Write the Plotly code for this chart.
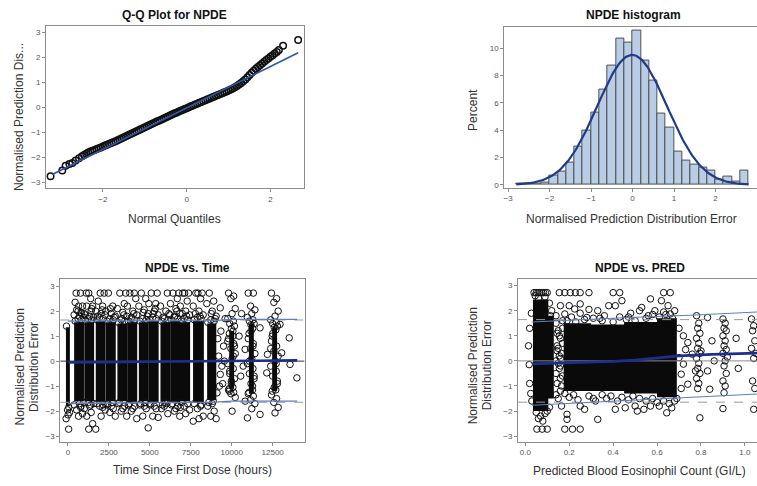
import numpy as np
import plotly.graph_objects as go

W, H = 757, 486

# ---------------- Q-Q plot data ----------------
QQ_THEO = [-3.25, -2.97, -2.89, -2.80, -2.73, -2.65, -2.57, -2.50, -2.45, -2.40, -2.35, -2.30, -2.25, -2.20,
           -2.15, -2.10, -2.05, -2.00, -1.95, -1.90, -1.85, -1.80, -1.75, -1.70, -1.65, -1.60, -1.55, -1.50,
           -1.45, -1.40, -1.35, -1.30, -1.25, -1.20, -1.15, -1.10, -1.05, -1.00, -0.95, -0.90, -0.85, -0.80,
           -0.75, -0.70, -0.65, -0.60, -0.55, -0.50, -0.45, -0.40, -0.35, -0.30, -0.25, -0.20, -0.15, -0.10,
           -0.05, 0.00, 0.05, 0.10, 0.15, 0.20, 0.25, 0.30, 0.35, 0.40, 0.45, 0.50, 0.55, 0.60, 0.65, 0.70,
           0.75, 0.80, 0.85, 0.90, 0.95, 1.00, 1.05, 1.10, 1.15, 1.20, 1.25, 1.30, 1.35, 1.40, 1.45, 1.50,
           1.55, 1.60, 1.65, 1.70, 1.75, 1.80, 1.85, 1.90, 1.95, 2.00, 2.05, 2.10, 2.15, 2.20, 2.30, 2.66]
QQ_NPDE = [-2.75, -2.52, -2.33, -2.26, -2.22, -2.12, -2.03, -1.95, -1.90, -1.85, -1.80, -1.76, -1.73, -1.70,
           -1.66, -1.63, -1.60, -1.56, -1.52, -1.49, -1.45, -1.42, -1.38, -1.35, -1.31, -1.27, -1.23, -1.19,
           -1.15, -1.11, -1.07, -1.03, -0.99, -0.95, -0.91, -0.87, -0.83, -0.79, -0.75, -0.71, -0.67, -0.63,
           -0.59, -0.55, -0.52, -0.48, -0.44, -0.40, -0.36, -0.32, -0.28, -0.24, -0.21, -0.17, -0.13, -0.10,
           -0.06, -0.03, 0.01, 0.05, 0.08, 0.12, 0.15, 0.19, 0.22, 0.26, 0.29, 0.33, 0.36, 0.40, 0.43, 0.47,
           0.50, 0.54, 0.57, 0.61, 0.64, 0.68, 0.72, 0.76, 0.81, 0.86, 0.92, 0.98, 1.05, 1.12, 1.21, 1.30,
           1.39, 1.47, 1.55, 1.62, 1.69, 1.76, 1.83, 1.90, 1.96, 2.03, 2.09, 2.16, 2.22, 2.30, 2.47, 2.70]
QQ_LINE_X = [-3.21, 2.66]
QQ_LINE_MEAN = -0.02
QQ_LINE_SD = 0.83

# ---------------- histogram data ----------------
HIST_LEFT = [-2.8, -2.6, -2.4, -2.2, -2.0, -1.8, -1.6, -1.4, -1.2, -1.0, -0.8, -0.6, -0.4, -0.2,
             0.0, 0.2, 0.4, 0.6, 0.8, 1.0, 1.2, 1.4, 1.6, 1.8, 2.0, 2.2, 2.4, 2.6]
HIST_PCT = [0.12, 0.10, 0.10, 0.20, 0.65, 1.0, 1.6, 2.8, 4.0, 5.3, 7.0, 8.7, 10.7, 10.4,
            11.3, 9.1, 7.6, 5.2, 4.2, 2.4, 1.8, 1.5, 1.26, 1.02, 0.41, 0.58, 0.25, 1.02]
BIN_W = 0.2
NORM_MEAN = -0.01
NORM_SD = 0.84
NORM_X_RANGE = [-2.8, 2.8]

# ---------------- NPDE vs time data ----------------
VISIT_T = [0, 680, 1300, 2000, 2620, 3320, 3930, 4630, 5240, 5950, 6560, 7160, 7970, 8780, 10000, 11200, 12620]
VISIT_SPREAD = [110, 300, 300, 300, 300, 300, 300, 300, 300, 300, 300, 300, 320, 300, 240, 240, 240]
CORE_HALF = [120, 300, 300, 300, 300, 300, 300, 300, 300, 300, 300, 300, 330, 280, 150, 150, 150]
CORE_LO = [-1.8, -1.6, -1.6, -1.65, -1.6, -1.6, -1.65, -1.6, -1.65, -1.6, -1.65, -1.6, -1.65, -1.55, -1.1, -1.3, -1.2]
CORE_HI = [1.35, 1.55, 1.55, 1.6, 1.55, 1.5, 1.55, 1.55, 1.6, 1.55, 1.6, 1.55, 1.6, 1.5, 1.2, 1.5, 1.35]
VISIT_VALS = [
    [1.4, -1.85, -1.95, -2.05, -2.15, -2.3, -2.72],
    [1.6, 1.65, 1.7, 1.75, 1.8, 1.85, 1.95, 2.05, 2.2, 2.2, 2.72, 2.72, 2.35, 1.9, 2.0,
     -1.65, -1.7, -1.75, -1.8, -1.95, -2.1, -2.2, -1.85],
    [1.6, 1.65, 1.7, 1.75, 1.8, 1.9, 2.0, 2.2, 2.2, 2.72, 2.5, 2.72, 1.85, 2.1,
     -1.65, -1.7, -1.8, -1.9, -2.05, -2.2, -2.5, -2.72, -1.75],
    [1.65, 1.7, 1.75, 1.85, 1.9, 2.0, 2.2, 2.4, 2.72, 2.72, 2.05, 1.8,
     -1.7, -1.75, -1.8, -1.95, -2.2, -2.72, -1.85],
    [1.6, 1.65, 1.7, 1.8, 1.9, 2.0, 2.2, 2.72, 1.75, 2.1,
     -1.65, -1.7, -1.75, -1.9, -2.05, -2.2, -1.8],
    [1.55, 1.6, 1.65, 1.8, 1.95, 2.1, 2.3, 2.72, 2.72, 1.7, 1.85,
     -1.65, -1.7, -1.8, -2.0, -2.2, -1.9],
    [1.6, 1.65, 1.75, 1.85, 2.0, 2.2, 2.72, 2.72, 2.5, 1.7, 1.9,
     -1.7, -1.75, -1.8, -2.0, -2.3, -1.9],
    [1.6, 1.65, 1.7, 1.9, 2.05, 2.2, 2.5, 2.72, 1.8, 1.95,
     -1.65, -1.7, -1.75, -1.9, -2.2, -2.67, -1.8],
    [1.65, 1.7, 1.75, 1.85, 2.0, 2.3, 2.3, 2.72, 2.72, 1.9, 2.1,
     -1.7, -1.75, -1.9, -2.2, -2.25, -1.8],
    [1.6, 1.65, 1.7, 1.85, 2.0, 2.2, 2.72, 1.75, 1.9,
     -1.65, -1.7, -1.75, -1.9, -2.1, -1.8],
    [1.65, 1.7, 1.75, 1.9, 2.1, 2.3, 2.5, 2.72, 2.72, 1.8, 2.0,
     -1.7, -1.75, -1.8, -2.0, -2.2, -1.9],
    [1.6, 1.65, 1.7, 1.85, 2.0, 2.2, 2.4, 2.72, 2.72, 2.72, 1.8, 1.9,
     -1.65, -1.7, -1.8, -1.95, -2.1, -1.85],
    [1.65, 1.7, 1.75, 1.85, 2.0, 2.2, 2.5, 2.72, 2.72, 2.72, 1.8, 1.9,
     -1.7, -1.75, -1.9, -2.2, -2.3, -2.4, -1.8],
    [1.55, 1.6, 1.65, 1.8, 2.0, 2.3, 2.4, 2.72, 1.7, 1.9,
     -1.6, -1.65, -1.8, -2.0, -2.2, -2.3, -1.7],
    [2.72, 2.6, 2.5, 2.1, 1.9, 1.7, 1.6, 1.5, 1.4, 1.3, 1.2, 1.1, 0.9, 0.7, 0.5, 0.3, 0.1, -0.1, -0.3,
     -0.5, -0.7, -0.9, -1.05, -1.1, -1.15, -1.25, -1.3, -1.45, -2.0, 0.8, 0.2, -0.4, 0.6, -0.8, 1.0, -1.2],
    [2.72, 2.72, 2.2, 2.05, 1.9, 1.75, 1.65, 1.6, 1.5, 1.45, 1.3, 1.1, 0.9, 0.7, 0.5, 0.3, 0.1, -0.1,
     -0.3, -0.5, -0.7, -0.9, -1.15, -1.25, -1.3, -1.4, -1.55, -1.7, -1.9, -2.27, 0.6, 0.0, -0.6, 1.2, -1.0],
    [2.72, 2.5, 2.35, 2.0, 1.8, 1.65, 1.55, 1.5, 1.4, 1.35, 1.25, 1.0, 0.8, 0.6, 0.4, 0.2, 0.0, -0.2,
     -0.4, -0.6, -0.8, -1.05, -1.15, -1.2, -1.35, -1.5, -1.65, -1.85, -2.07, 0.5, -0.1, 1.1, -0.9],
]
EXTRA_T = [9300, 9340, 9300, 9100, 9500, 9450, 9200, 9600, 10820, 10600, 10700, 10820, 12140, 12180, 11730,
           11730, 12950, 13050, 13510, 13980, 13560, 9400, 9150, 9250, 9550, 10450, 10550]
EXTRA_V = [2.13, 1.2, -0.53, -1.27, 0.6, -0.9, 0.2, 1.7, 0.47, 1.9, -0.2, -1.6, -0.47, 0.27, 1.33,
           -2.13, 1.47, 0.33, 0.93, -0.67, -0.13, -0.2, 0.9, -1.0, 0.0, 1.0, -0.6]
TIME_REF_T = [0, 3000, 6000, 9000, 10000, 14000]
TIME_UPPER = [1.6, 1.6, 1.6, 1.62, 1.67, 1.67]
TIME_LOWER = [-1.7, -1.68, -1.66, -1.64, -1.6, -1.6]
TIME_MID = [-0.05, -0.03, -0.01, 0.0, 0.03, 0.03]

# ---------------- NPDE vs PRED data ----------------
PCORE_XLO = [0.035, 0.105, 0.175, 0.30, 0.45, 0.60]
PCORE_XHI = [0.105, 0.13, 0.30, 0.45, 0.60, 0.69]
PCORE_YLO = [-2.0, -1.5, -1.2, -1.2, -1.3, -1.45]
PCORE_YHI = [2.45, 1.8, 1.5, 1.45, 1.55, 1.7]
PRED_X = [0.040, 0.050, 0.058, 0.066, 0.075, 0.083, 0.092, 0.100,
          0.045, 0.09, 0.06, 0.11, 0.12, 0.115,
          0.02, 0.015, 0.018, 0.02, 0.025, 0.028, 0.03,
          0.05, 0.07, 0.09, 0.06, 0.08, 0.10, 0.11,
          0.053, 0.077, 0.10, 0.18, 0.215, 0.25,
          0.155, 0.18, 0.205, 0.228, 0.25, 0.29, 0.40, 0.43, 0.63, 0.66,
          0.14, 0.15, 0.16, 0.145, 0.165, 0.14, 0.155, 0.17, 0.145, 0.16, 0.15, 0.165, 0.14, 0.17, 0.16, 0.15,
          0.17, 0.14, 0.155, 0.165, 0.145, 0.16, 0.15, 0.17, 0.14, 0.16, 0.155, 0.145,
          0.19, 0.21, 0.23, 0.25, 0.27, 0.29, 0.31, 0.33, 0.35, 0.36, 0.38, 0.40, 0.41, 0.43, 0.44, 0.46, 0.48,
          0.50, 0.52, 0.53, 0.55, 0.57, 0.58, 0.59, 0.61, 0.62, 0.63, 0.65, 0.66, 0.67, 0.68, 0.20, 0.16, 0.18,
          0.225, 0.25, 0.28, 0.34, 0.47, 0.56, 0.64,
          0.18, 0.20, 0.22, 0.24, 0.25, 0.27, 0.19, 0.19, 0.29, 0.31, 0.32, 0.33, 0.35, 0.37, 0.39, 0.41, 0.42,
          0.44, 0.455, 0.47, 0.49, 0.50, 0.51, 0.52, 0.54, 0.55, 0.57, 0.58, 0.60, 0.61, 0.63, 0.644, 0.655,
          0.667, 0.68, 0.69,
          0.70, 0.71, 0.72, 0.72, 0.74, 0.74, 0.76, 0.73, 0.70, 0.71,
          0.78, 0.79, 0.785, 0.795, 0.78, 0.79, 0.785, 0.795, 0.78, 0.79, 0.785, 0.795, 0.78, 0.79, 0.785,
          0.795, 0.80, 0.775,
          0.83, 0.83, 0.84, 0.85, 0.86,
          0.90, 0.91, 0.905, 0.915, 0.90, 0.91, 0.905, 0.915, 0.90, 0.91, 0.905, 0.915, 0.90, 0.91, 0.905,
          0.90, 0.92,
          0.96, 0.97,
          1.03, 1.04, 1.035, 1.045, 1.03, 1.04, 1.035, 1.045, 1.04, 1.05]
PRED_Y = [2.72, 2.72, 2.72, 2.72, 2.72, 2.72, 2.72, 2.72,
          2.6, 2.55, 2.5, 2.3, 2.0, 1.8,
          1.3, 0.6, -0.15, -0.9, -1.3, 1.9, -1.6,
          -2.05, -2.2, -2.1, -2.3, -2.4, -2.0, -1.85,
          -2.72, -2.72, -2.72, -2.72, -2.72, -2.72,
          2.72, 2.72, 2.72, 2.72, 2.72, 2.72, 2.72, 2.72, 2.72, 2.72,
          1.5, 1.2, 0.9, 0.6, 0.3, 0.0, -0.3, -0.6, -0.9, -1.2, -1.5, -1.8, 1.8, 1.6, 0.1, -0.1,
          0.7, -0.5, 1.0, -1.0, 0.4, -0.7, 0.5, 1.3, -1.35, -0.2, 0.2, 1.1,
          1.6, 1.75, 1.55, 1.9, 1.65, 2.05, 1.7, 2.0, 1.6, 1.8, 2.2, 1.55, 2.2, 1.75, 2.4, 1.65, 1.9,
          1.6, 2.0, 2.13, 1.7, 2.47, 1.85, 2.0, 1.75, 2.4, 1.95, 2.2, 1.87, 1.7, 2.0, 2.2, 2.2, 1.87,
          2.07, 2.27, 1.73, 1.7, 1.75, 1.8, 1.85,
          -1.3, -1.45, -1.35, -1.55, -1.8, -1.93, -2.13, -2.33, -1.4, -1.5, -1.6, -2.33, -1.35, -1.5, -1.4,
          -1.93, -1.6, -1.45, -1.87, -1.55, -1.4, -1.8, -2.0, -1.5, -1.93, -1.6, -1.8, -1.5, -1.65, -1.8, -1.6,
          -2.07, -1.7, -1.87, -1.6, -1.5,
          0.13, -0.53, 1.0, -0.13, 0.73, -0.93, 0.27, 0.45, 1.3, -1.1,
          1.8, 1.5, 1.3, 1.1, 0.9, 0.7, 0.5, 0.3, 0.1, -0.1, -0.3, -0.5, -0.7, -0.9, -1.1, -2.27, 0.4, -0.4,
          1.73, -0.4, -1.13, 0.8, 0.0,
          1.67, 1.5, 1.3, 1.2, 1.0, 0.8, 0.6, 0.45, 0.3, 0.0, -0.2, -0.5, -0.8, -1.0, -1.27, -1.9, 0.15,
          0.9, -0.3,
          1.67, 1.4, 1.2, 0.8, 0.5, 0.1, -0.8, -1.1, -1.93, 0.3]
PRED_REF_X = [0.03, 0.25, 0.5, 0.75, 1.06]
PRED_UPPER = [1.55, 1.65, 1.74, 1.82, 1.95]
PRED_LOWER = [-1.77, -1.67, -1.56, -1.45, -1.32]
PRED_MID_X = [0.03, 0.2, 0.4, 0.5, 0.7, 0.85, 1.06]
PRED_MID = [-0.12, -0.08, -0.02, 0.03, 0.2, 0.26, 0.31]
REF_NORM_LIMIT = 1.645

# ---------------- styles ----------------
FONT = "Liberation Sans, Arial, sans-serif"
JIT = [-0.8, 0.5, -0.2, 0.9, 0.1, -1.0, 0.4, -0.5, 0.7, -0.1, 0.3, -0.6]
MK = dict(symbol="circle-open", size=6.5, color="#111111", line=dict(width=1, color="#111111"))
MK_QQ = dict(symbol="circle-open", size=6.5, color="#111111", line=dict(width=1.5, color="#111111"))
BLUE_LT = "#5b7fc2"
BLUE_DK = "#1c2f8c"
GRAY_DASH = "#9a9a9a"

RANGES = {
    "1": ([-3.36, 2.79], [-3.23, 3.24]),
    "2": ([-3.09, 3.0], [-0.19, 11.57]),
    "3": ([-470, 14450], [-3.22, 3.29]),
    "4": ([-0.033, 1.055], [-3.22, 3.27]),
}


def dx(px):
    return px / W


def dy(py):
    return 1 - py / H


fig = go.Figure()

# ---- Panel 1: Q-Q ----
fig.add_trace(go.Scatter(x=QQ_THEO, y=QQ_NPDE, mode="markers", marker=MK_QQ, xaxis="x", yaxis="y"))
fig.add_trace(go.Scatter(x=QQ_LINE_X, y=[QQ_LINE_MEAN + QQ_LINE_SD * v for v in QQ_LINE_X], mode="lines",
                         line=dict(color="#2f54a8", width=1.6), xaxis="x", yaxis="y"))

# ---- Panel 2: histogram ----
centers = [l + BIN_W / 2 for l in HIST_LEFT]
fig.add_trace(go.Bar(x=centers, y=HIST_PCT, width=BIN_W, marker=dict(color="#b9cde6",
                     line=dict(color="#505050", width=1)), xaxis="x2", yaxis="y2"))
xs = np.linspace(NORM_X_RANGE[0], NORM_X_RANGE[1], 200)
dens = 100 * BIN_W * np.exp(-0.5 * ((xs - NORM_MEAN) / NORM_SD) ** 2) / (NORM_SD * np.sqrt(2 * np.pi))
fig.add_trace(go.Scatter(x=xs, y=dens, mode="lines", line=dict(color="#1f3c8a", width=2.2),
                         xaxis="x2", yaxis="y2"))

# ---- Panel 3: NPDE vs time ----
cx, cy = [], []
for t, half, lo, hi in zip(VISIT_T, CORE_HALF, CORE_LO, CORE_HI):
    cx += [t - half, t + half, t + half, t - half, t - half, None]
    cy += [lo, lo, hi, hi, lo, None]
fig.add_trace(go.Scatter(x=cx, y=cy, mode="lines", fill="toself", fillcolor="#0a0a0a",
                         line=dict(width=0, color="#0a0a0a"), xaxis="x3", yaxis="y3"))
tp, vp = [], []
for t, sp, vals in zip(VISIT_T, VISIT_SPREAD, VISIT_VALS):
    for k, v in enumerate(vals):
        tp.append(t + JIT[k % len(JIT)] * sp)
        vp.append(v)
tp += EXTRA_T
vp += EXTRA_V
fig.add_trace(go.Scatter(x=tp, y=vp, mode="markers", marker=MK, xaxis="x3", yaxis="y3"))
xr3 = RANGES["3"][0]
fig.add_trace(go.Scatter(x=xr3, y=[0, 0], mode="lines", line=dict(color="#333333", width=1), xaxis="x3", yaxis="y3"))
for s in (1, -1):
    fig.add_trace(go.Scatter(x=xr3, y=[s * REF_NORM_LIMIT] * 2, mode="lines",
                             line=dict(color=GRAY_DASH, width=1, dash="dash"), xaxis="x3", yaxis="y3"))
fig.add_trace(go.Scatter(x=TIME_REF_T, y=TIME_UPPER, mode="lines", line=dict(color=BLUE_LT, width=1.1), xaxis="x3", yaxis="y3"))
fig.add_trace(go.Scatter(x=TIME_REF_T, y=TIME_LOWER, mode="lines", line=dict(color=BLUE_LT, width=1.1), xaxis="x3", yaxis="y3"))
fig.add_trace(go.Scatter(x=TIME_REF_T, y=TIME_MID, mode="lines", line=dict(color=BLUE_DK, width=2.6), xaxis="x3", yaxis="y3"))

# ---- Panel 4: NPDE vs PRED ----
px_, py_ = [], []
for xl, xh, yl, yh in zip(PCORE_XLO, PCORE_XHI, PCORE_YLO, PCORE_YHI):
    px_ += [xl, xh, xh, xl, xl, None]
    py_ += [yl, yl, yh, yh, yl, None]
fig.add_trace(go.Scatter(x=px_, y=py_, mode="lines", fill="toself", fillcolor="#0a0a0a",
                         line=dict(width=0, color="#0a0a0a"), xaxis="x4", yaxis="y4"))
fig.add_trace(go.Scatter(x=PRED_X, y=PRED_Y, mode="markers", marker=MK, xaxis="x4", yaxis="y4"))
xr4 = RANGES["4"][0]
fig.add_trace(go.Scatter(x=xr4, y=[0, 0], mode="lines", line=dict(color="#8a8a8a", width=1), xaxis="x4", yaxis="y4"))
for s in (1, -1):
    fig.add_trace(go.Scatter(x=xr4, y=[s * REF_NORM_LIMIT] * 2, mode="lines",
                             line=dict(color=GRAY_DASH, width=1, dash="dash"), xaxis="x4", yaxis="y4"))
fig.add_trace(go.Scatter(x=PRED_REF_X, y=PRED_UPPER, mode="lines", line=dict(color=BLUE_LT, width=1.1), xaxis="x4", yaxis="y4"))
fig.add_trace(go.Scatter(x=PRED_REF_X, y=PRED_LOWER, mode="lines", line=dict(color=BLUE_LT, width=1.1), xaxis="x4", yaxis="y4"))
fig.add_trace(go.Scatter(x=PRED_MID_X, y=PRED_MID, mode="lines", line=dict(color=BLUE_DK, width=2.6), xaxis="x4", yaxis="y4"))

# ---------------- axes ----------------
TICKFONT = dict(family=FONT, size=8, color="#555555")


def axis(domain, rng, anchor, mirror=True, **kw):
    d = dict(domain=domain, range=rng, anchor=anchor, showgrid=False, zeroline=False,
             showline=True, linecolor="#8c8c8c", linewidth=1, mirror=mirror,
             ticks="outside", ticklen=3, tickcolor="#8c8c8c", tickfont=TICKFONT)
    d.update(kw)
    return d


layout_axes = dict(
    xaxis=axis([dx(45), dx(303)], RANGES["1"][0], "y", tickvals=[-2, 0, 2]),
    yaxis=axis([dy(189), dy(26.5)], RANGES["1"][1], "x", tickvals=[-3, -2, -1, 0, 1, 2, 3]),
    xaxis2=axis([dx(504), 1], RANGES["2"][0], "y2", tickvals=[-3, -2, -1, 0, 1, 2, 3]),
    yaxis2=axis([dy(188.3), dy(26.7)], RANGES["2"][1], "x2", mirror=False, tickvals=[0, 2, 4, 6, 8, 10]),
    xaxis3=axis([dx(59.3), dx(304)], RANGES["3"][0], "y3", tickvals=[0, 2500, 5000, 7500, 10000, 12500], tickformat="d"),
    yaxis3=axis([dy(443.5), dy(280)], RANGES["3"][1], "x3", tickvals=[-3, -2, -1, 0, 1, 2, 3]),
    xaxis4=axis([dx(517.7), 1], RANGES["4"][0], "y4", tickvals=[0, 0.2, 0.4, 0.6, 0.8, 1.0], tickformat=".1f"),
    yaxis4=axis([dy(443.5), dy(280)], RANGES["4"][1], "x4", mirror=False, tickvals=[-3, -2, -1, 0, 1, 2, 3]),
)

# ---------------- text ----------------
def ann(text, x, y, size=12, bold=False, angle=0, color="#333333"):
    return dict(text=f"<b>{text}</b>" if bold else text, x=dx(x), y=dy(y), xref="paper", yref="paper",
                showarrow=False, textangle=angle, xanchor="center", yanchor="middle",
                font=dict(family=FONT, size=size, color=color))


annotations = [
    ann("Q-Q Plot for NPDE", 174, 15, size=12, bold=True, color="#111111"),
    ann("NPDE histogram", 633, 15, size=12, bold=True, color="#111111"),
    ann("NPDE vs. Time", 187, 269, size=12, bold=True, color="#111111"),
    ann("NPDE vs. PRED", 640, 269, size=12, bold=True, color="#111111"),
    ann("Normal Quantiles", 173.5, 219.5),
    ann("Normalised Prediction Distribution Error", 631.5, 219.5),
    ann("Time Since First Dose (hours)", 192, 472),
    ann("Predicted Blood Eosinophil Count (GI/L)", 639, 473),
    ann("Normalised Prediction Dis...", 17.5, 117, angle=-90),
    ann("Percent", 472, 110, angle=-90),
    ann("Normalised Prediction", 20, 368, angle=-90),
    ann("Distribution Error", 33.5, 368, angle=-90),
    ann("Normalised Prediction", 473.5, 367, angle=-90),
    ann("Distribution Error", 487.5, 367, angle=-90),
]

fig.update_layout(
    width=W, height=H, margin=dict(l=0, r=0, t=0, b=0),
    paper_bgcolor="white", plot_bgcolor="white", showlegend=False,
    annotations=annotations, bargap=0, **layout_axes,
)

fig.write_html("out.html")
